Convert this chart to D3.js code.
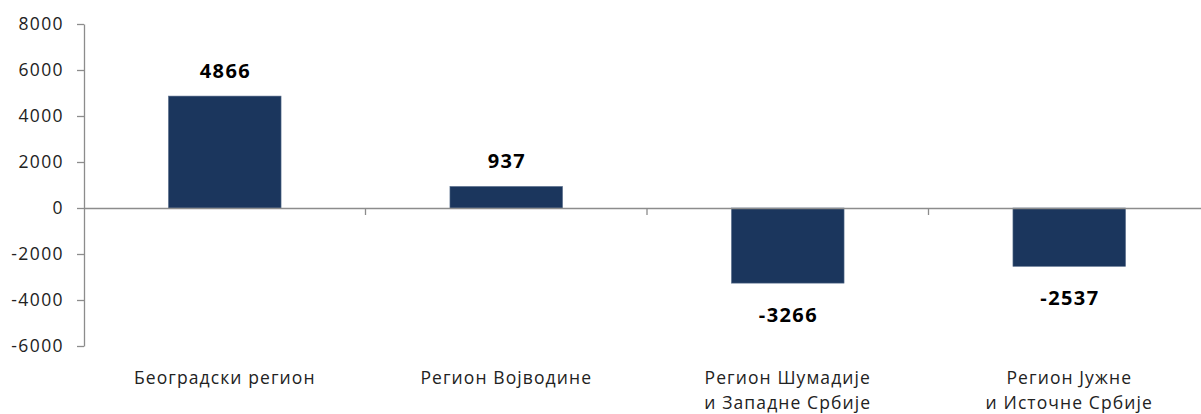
<!DOCTYPE html>
<html><head><meta charset="utf-8">
<script src="https://cdn.jsdelivr.net/npm/d3@7"></script>
<style>body{margin:0;background:#fff}svg{display:block}text{font-family:"Open Sans",sans-serif}</style>
</head><body><svg id="c" width="1201" height="414"></svg>
<script>
const categories = [["Београдски регион"],["Регион Војводине"],["Регион Шумадије","и Западне Србије"],["Регион Јужне","и Источне Србије"]];
const values = [4866, 937, -3266, -2537];
const yTicks = [8000,6000,4000,2000,0,-2000,-4000,-6000];

const svg = d3.select("#c");
const x0 = 84, x1 = 1210;
const y = d3.scaleLinear().domain([-6000, 8000]).range([346, 24]);
const x = d3.scaleBand().domain(d3.range(categories.length)).range([x0, x1]).paddingInner(0.6).paddingOuter(0.3);
const band = d3.scaleBand().domain(d3.range(categories.length)).range([x0, x1]);
const grey = "#8c8c8c";

// y axis
const ya = svg.append("g").attr("transform", `translate(${x0},0)`)
  .call(d3.axisLeft(y).tickValues(yTicks).tickSize(7).tickSizeOuter(0).tickFormat(d => String(d)));
ya.select(".domain").attr("stroke", grey).attr("stroke-width", 1.3);
ya.selectAll(".tick line").attr("stroke", grey).attr("stroke-width", 1.3);
ya.selectAll(".tick text").attr("fill", "#222").style("font-size", "17.5px").attr("letter-spacing", 1.4)
  .attr("x", -20).attr("dy", "0.34em").attr("font-family", '"Open Sans",sans-serif');

// bars
svg.selectAll("rect.bar").data(values).join("rect")
  .attr("x", (d,i) => x(i)).attr("width", x.bandwidth())
  .attr("y", d => y(Math.max(0,d))).attr("height", d => Math.abs(y(d)-y(0)))
  .attr("fill", "#1b365d").attr("stroke", "#5a6f8c").attr("stroke-width", 0.6);

// x axis line at 0
const xa = svg.append("g").attr("transform", `translate(0,${y(0)})`)
  .call(d3.axisBottom(band).tickSize(7).tickSizeOuter(0).tickFormat(""));
xa.select(".domain").attr("stroke", grey).attr("stroke-width", 1.3);
xa.selectAll(".tick line").attr("stroke", grey).attr("stroke-width", 1.3)
  .attr("transform", `translate(${band.bandwidth()/2},0)`);
xa.selectAll(".tick").filter((d,i)=> i===categories.length-1).remove();

// value labels
svg.selectAll("text.val").data(values).join("text")
  .attr("x", (d,i) => x(i) + x.bandwidth()/2 + 0.7)
  .attr("y", d => d >= 0 ? y(d) - 18 : y(d) + 39)
  .attr("text-anchor", "middle").attr("font-size", 20).attr("font-weight", "bold").attr("fill", "#000")
  .attr("letter-spacing", 1.4)
  .text(d => d);

// category labels
const cl = svg.selectAll("text.cat").data(categories).join("text")
  .attr("text-anchor", "middle").attr("font-size", 17.5).attr("fill", "#222").attr("letter-spacing", 1.1)
  .attr("transform", (d,i) => `translate(${band(i)+band.bandwidth()/2},384)`);
cl.selectAll("tspan").data(d => d).join("tspan")
  .attr("x", 0).attr("dy", (d,i) => i ? 25 : 0).text(d => d);
</script></body></html>
